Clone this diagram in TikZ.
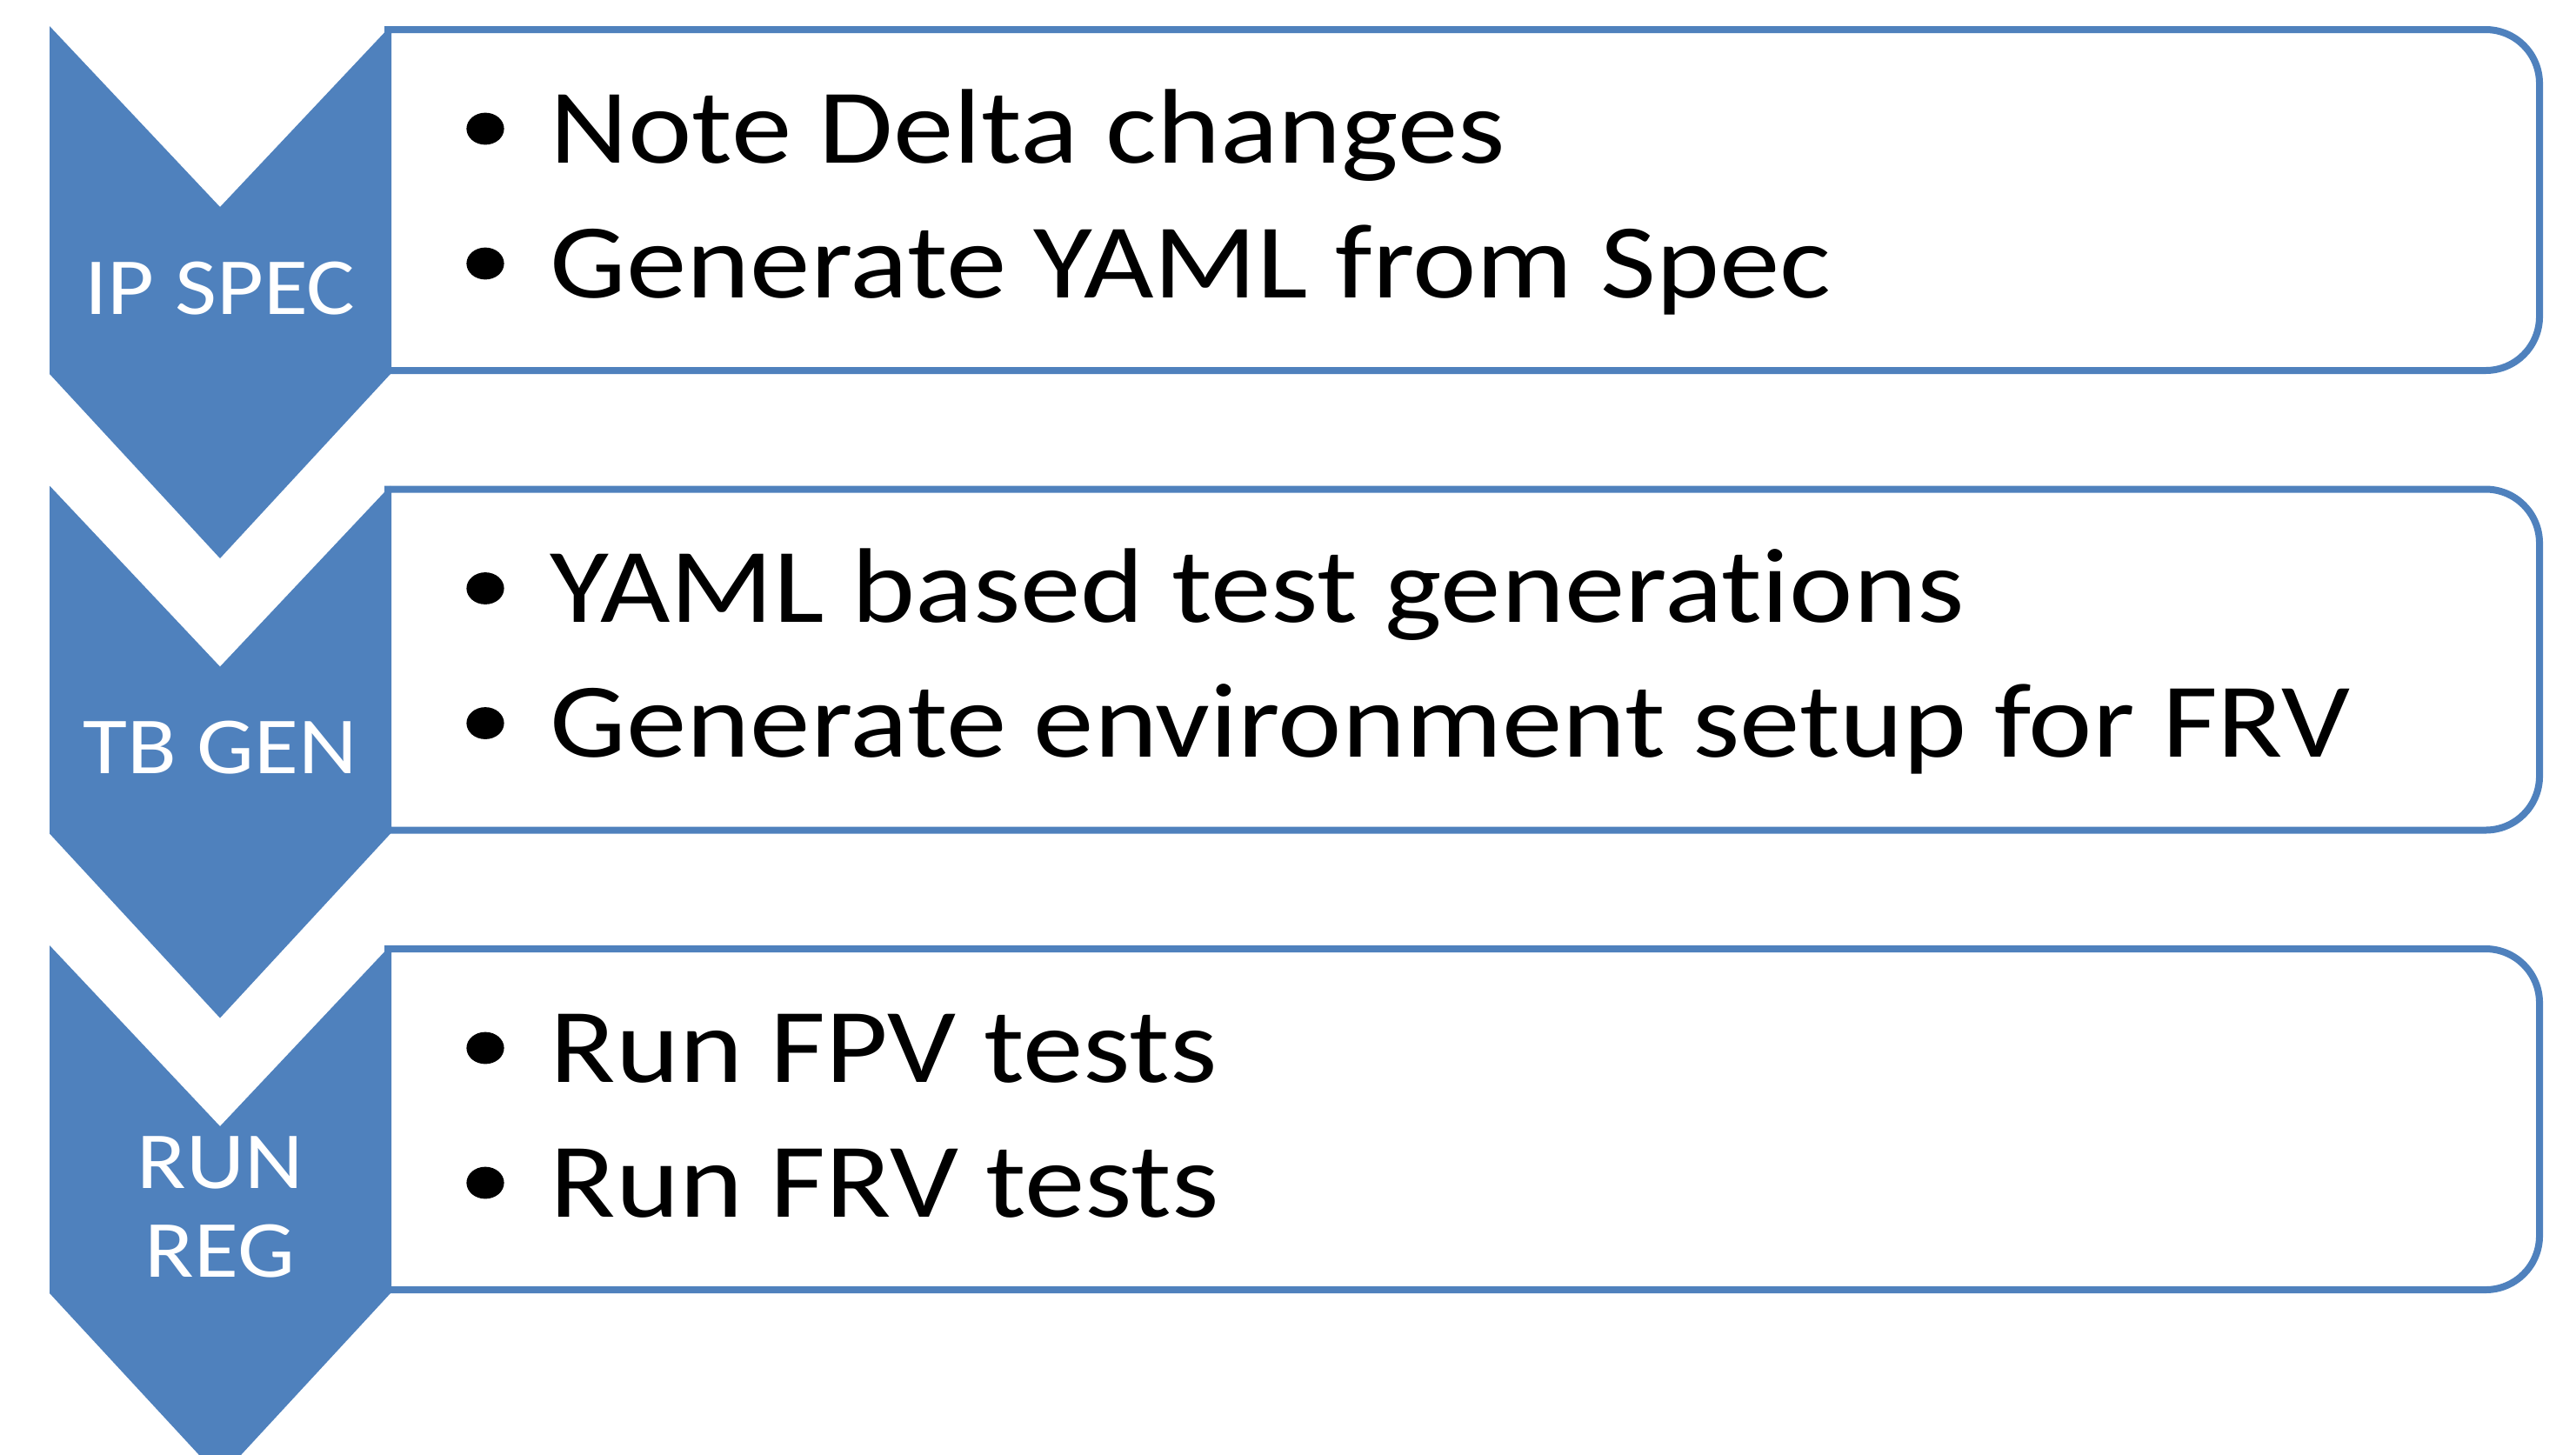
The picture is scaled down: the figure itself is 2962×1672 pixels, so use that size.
\documentclass[tikz,border=0pt]{standalone}
\usepackage{fontspec}
\setmainfont{Carlito}[FakeStretch=1.14,Ligatures=NoCommon]
\newfontfamily\labfont{Carlito}[FakeStretch=1.12,Ligatures=NoCommon]
\definecolor{ppblue}{RGB}{79,129,189}
\begin{document}
\begin{tikzpicture}[x=0.25pt,y=-0.25pt,
  chev/.style={fill=ppblue},
  box/.style={draw=ppblue,line width=2pt,fill=white},
  lab/.style={text=white,font=\labfont\fontsize{23.3}{25.5}\selectfont,inner sep=0pt,anchor=base},
  item/.style={font=\fontsize{30.5}{38.75}\selectfont,inner sep=0pt,anchor=base west},
  dot/.style={fill=black}]
\useasboundingbox (0,0) rectangle (2962,1672);
% boxes
\foreach \o in {0,528.5,1057}{
  \draw[box] (446,34+\o) -- (2858,34+\o) arc[start angle=90,end angle=0,radius=15.5pt]
    -- (2920,364+\o) arc[start angle=0,end angle=-90,radius=15.5pt] -- (446,426+\o) -- cycle;
}
% chevrons
\foreach \o in {0,528.5,1057}{
  \fill[chev] (57,30+\o) -- (253,238+\o) -- (449,30+\o) -- (449,430+\o)
    -- (253,642+\o) -- (57,430+\o) -- cycle;
}
% chevron labels
\node[lab] (l1) at (253,361) {IP SPEC};
\node[lab] (l2) at (253,889.5) {TB GEN};
\node[lab] (l3a) at (253,1366) {RUN};
\node[lab] (l3b) at (253,1468) {REG};
% bullets
\foreach \o in {0,528.5,1057}{
  \fill[dot] (558,148+\o) ellipse[x radius=5.4pt,y radius=4.6pt];
  \fill[dot] (558,303+\o) ellipse[x radius=5.4pt,y radius=4.6pt];
}
% items
\node[item] (t11) at (632,187) {Note Delta changes};
\node[item] (t12) at (632,342) {Generate YAML from Spec};
\node[item] (t21) at (632,715.5) {YAML based test generations};
\node[item] (t22) at (632,870.5) {Generate environment setup for FRV};
\node[item] (t31) at (632,1244) {Run FPV tests};
\node[item] (t32) at (632,1399) {Run FRV tests};
\end{tikzpicture}
\end{document}
